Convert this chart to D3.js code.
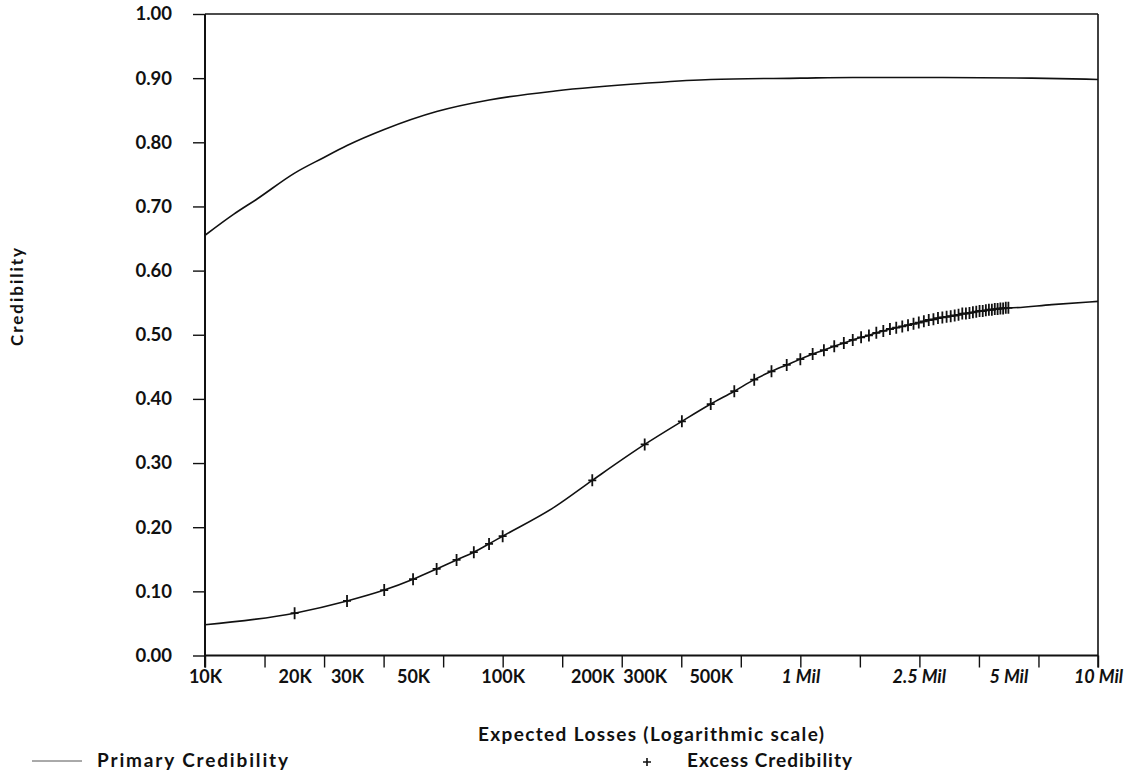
<!DOCTYPE html>
<html>
<head>
<meta charset="utf-8">
<script src="https://cdn.jsdelivr.net/npm/d3@7/dist/d3.min.js"></script>
<style>
  html, body { margin: 0; padding: 0; background: #fff; }
  svg { display: block; }
  text { font-family: Lato, "Open Sans", sans-serif; font-weight: bold; fill: #111; }
</style>
</head>
<body>
<svg id="chart" width="1128" height="775"></svg>
<script>
// ---- data ----
const primaryLosses = [10000, 12500, 15000, 20000, 25000, 30000, 40000, 60000, 90000, 150000, 300000, 500000, 1000000, 1500000, 3000000, 6000000, 10000000];
const primaryCred   = [0.655, 0.688, 0.712, 0.752, 0.776, 0.795, 0.820, 0.848, 0.866, 0.880, 0.892, 0.898, 0.900, 0.901, 0.901, 0.900, 0.898];

const excessLosses = [20000, 30000, 40000, 50000, 60000, 70000, 80000, 90000, 100000,
  200000, 300000, 400000, 500000, 600000, 700000, 800000, 900000,
  1000000, 1100000, 1200000, 1300000, 1400000, 1500000, 1600000, 1700000, 1800000, 1900000,
  2000000, 2100000, 2200000, 2300000, 2400000, 2500000, 2600000, 2700000, 2800000, 2900000,
  3000000, 3100000, 3200000, 3300000, 3400000, 3500000, 3600000, 3700000, 3800000, 3900000,
  4000000, 4100000, 4200000, 4300000, 4400000, 4500000, 4600000, 4700000, 4800000, 4900000, 5000000];
const excessCred = [0.066, 0.085, 0.102, 0.119, 0.135, 0.149, 0.161, 0.174, 0.186,
  0.273, 0.329, 0.365, 0.392, 0.412, 0.430, 0.443, 0.453,
  0.462, 0.470, 0.476, 0.482, 0.487, 0.492, 0.496, 0.499, 0.503, 0.506,
  0.509, 0.511, 0.513, 0.515, 0.517, 0.519, 0.521, 0.523, 0.524, 0.526,
  0.527, 0.528, 0.529, 0.530, 0.531, 0.533, 0.533, 0.534, 0.535, 0.536,
  0.537, 0.537, 0.538, 0.539, 0.539, 0.540, 0.540, 0.541, 0.541, 0.542, 0.542];
// the excess curve also runs (without markers) from 10K and out to 10 Mil
const excessLineLosses = [10000, 150000, 7000000, 10000000];
const excessLineCred   = [0.048, 0.232, 0.547, 0.552];

const yTickValues = [0, 0.1, 0.2, 0.3, 0.4, 0.5, 0.6, 0.7, 0.8, 0.9, 1.0];
const xTickValues = [10000, 15849, 25119, 39811, 63096, 100000, 158489, 251189, 398107, 630957,
  1000000, 1584893, 2511886, 3981072, 6309573, 10000000];
const xLabelValues = [10000, 20000, 30000, 50000, 100000, 200000, 300000, 500000, 1000000, 2500000, 5000000, 10000000];
const xLabelText   = ["10K", "20K", "30K", "50K", "100K", "200K", "300K", "500K", "1 Mil", "2.5 Mil", "5 Mil", "10 Mil"];

// ---- drawing ----
(function () {
const svg = d3.select("#chart");
const pL = 205, pR = 1098, pT = 14, pB = 655.5;

const x = d3.scaleLog().domain([1e4, 1e7]).range([pL, pR]);
const y = d3.scaleLinear().domain([0, 1]).range([pB, pT]);

// frame (top + right)
svg.append("line").attr("x1", pL).attr("x2", pR).attr("y1", pT).attr("y2", pT)
  .attr("stroke", "#111").attr("stroke-width", 1.6);
svg.append("line").attr("x1", pR).attr("x2", pR).attr("y1", pT).attr("y2", pB + 12)
  .attr("stroke", "#111").attr("stroke-width", 1.6);

// y axis
const yAxis = svg.append("g").attr("transform", `translate(${pL},0)`)
  .call(d3.axisLeft(y).tickValues(yTickValues).tickFormat(d3.format(".2f")).tickSize(12).tickPadding(21));
yAxis.select(".domain").attr("stroke", "#111").attr("stroke-width", 2)
  .attr("d", `M0,${pT}V${pB + 12}`);
yAxis.selectAll(".tick line").attr("stroke", "#111").attr("stroke-width", 1.4);
yAxis.selectAll(".tick text").style("font-size", "18.5px").style("font-family", "Lato, sans-serif")
  .style("font-weight", "bold").attr("fill", "#111");

// x axis ticks
const xAxis = svg.append("g").attr("transform", `translate(0,${pB})`)
  .call(d3.axisBottom(x).tickValues(xTickValues).tickFormat("").tickSize(12));
xAxis.select(".domain").attr("stroke", "#111").attr("stroke-width", 1.8).attr("d", `M${pL},0H${pR}`);
xAxis.selectAll(".tick line").attr("stroke", "#111").attr("stroke-width", 1.4);

// x labels
const xLab = svg.append("g").attr("transform", `translate(0,${pB})`)
  .call(d3.axisBottom(x).tickValues(xLabelValues).tickFormat((d, i) => xLabelText[i]).tickSize(0).tickPadding(15));
xLab.select(".domain").remove();
xLab.selectAll(".tick text").style("font-size", "18px").style("font-family", "Lato, sans-serif")
  .style("font-weight", "bold").attr("fill", "#111")
  .style("font-style", (d, i) => xLabelText[i].includes("Mil") ? "italic" : "normal");

// curves
const line = d3.line().x(d => x(d[0])).y(d => y(d[1])).curve(d3.curveMonotoneX);

svg.append("path")
  .datum(primaryLosses.map((v, i) => [v, primaryCred[i]]))
  .attr("d", line).attr("fill", "none").attr("stroke", "#111").attr("stroke-width", 1.6);

const excessAll = excessLineLosses.map((v, i) => [v, excessLineCred[i]])
  .concat(excessLosses.map((v, i) => [v, excessCred[i]]))
  .sort((a, b) => a[0] - b[0]);
svg.append("path")
  .datum(excessAll)
  .attr("d", line).attr("fill", "none").attr("stroke", "#111").attr("stroke-width", 1.6);

// plus markers
const plus = "M-4,0H4M0,-6V6";
svg.append("g").selectAll("path")
  .data(excessLosses.map((v, i) => [v, excessCred[i]]))
  .join("path")
  .attr("transform", d => `translate(${x(d[0])},${y(d[1])})`)
  .attr("d", plus).attr("stroke", "#111").attr("stroke-width", 1.8).attr("fill", "none");

// axis titles
svg.append("text").attr("x", 651).attr("y", 741).attr("text-anchor", "middle")
  .style("font-size", "19px").attr("textLength", 346)
  .text("Expected Losses (Logarithmic scale)");
svg.append("text").attr("transform", "translate(23,297) rotate(-90)").attr("text-anchor", "middle")
  .style("font-size", "17px").attr("textLength", 98)
  .text("Credibility");

// legend
svg.append("line").attr("x1", 32).attr("x2", 82).attr("y1", 761).attr("y2", 761)
  .attr("stroke", "#555").attr("stroke-width", 1);
svg.append("text").attr("x", 97).attr("y", 767).style("font-size", "19px").attr("textLength", 191)
  .text("Primary Credibility");
svg.append("path").attr("transform", "translate(647,762)").attr("d", "M-4,0H4M0,-4V4")
  .attr("stroke", "#111").attr("stroke-width", 1.6);
svg.append("text").attr("x", 687).attr("y", 767).style("font-size", "19px").attr("textLength", 165)
  .text("Excess Credibility");
})();
</script>
</body>
</html>
